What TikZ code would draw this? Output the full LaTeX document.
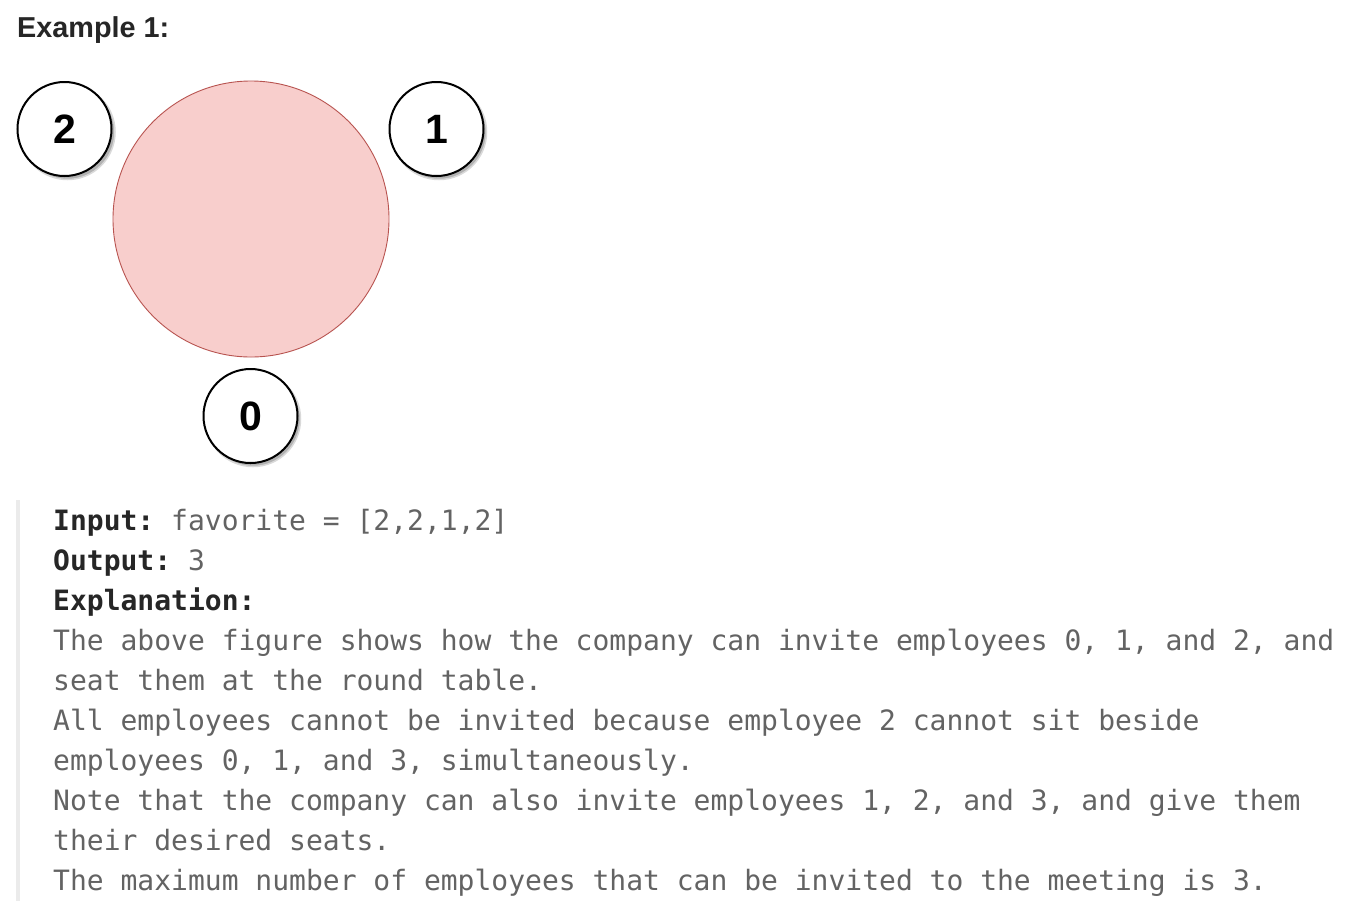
\documentclass[tikz,border=0pt]{standalone}
\usepackage{fontspec}
\setmainfont{Liberation Sans}
\setmonofont{DejaVu Sans Mono}
\definecolor{txtgrey}{HTML}{636363}
\definecolor{txtdark}{HTML}{262626}
\definecolor{barcol}{HTML}{EBEBEB}
\definecolor{tablefill}{HTML}{F8CECC}
\definecolor{tabledraw}{HTML}{B85450}
\begin{document}
\begin{tikzpicture}[x=1pt,y=-1pt,
  seat/.style={circle,draw=black,line width=2pt,fill=white,minimum size=94pt,inner sep=0pt,
    font=\fontsize{41}{41}\selectfont\bfseries},
  seatshadow/.style={circle,fill=black!30,minimum size=95pt,inner sep=0pt,draw=black!15,line width=1.5pt},
  codeline/.style={anchor=base west,inner sep=0pt,text=txtgrey,font=\fontsize{28}{40}\selectfont\ttfamily},
  lbl/.style={text=txtdark,font=\fontsize{28}{40}\selectfont\ttfamily\bfseries}
]
\useasboundingbox (0,0) rectangle (1364,922);
\fill[white] (0,0) rectangle (1364,922);
% title
\node[anchor=base west,inner sep=0pt,text=txtdark,font=\fontsize{28.8}{30}\selectfont\bfseries] (title) at (17,37) {Example 1:};
% table
\node[circle,draw=tabledraw,fill=tablefill,line width=0.9pt,minimum size=276pt,inner sep=0pt] (table) at (251,219) {};
% shadows
\node[seatshadow] (s2) at (67.5,132) {};
\node[seatshadow] (s1) at (439,132) {};
\node[seatshadow] (s0) at (253,419) {};
% seats
\node[seat] (p2) at (64.5,129) {2};
\node[seat] (p1) at (436.5,129) {1};
\node[seat] (p0) at (250.5,416) {0};
% quote bar
\fill[barcol] (16,500) rectangle (20,901);
\node[codeline] (l1) at (53,530) {\textcolor{txtdark}{\bfseries Input:} favorite = [2,2,1,2]};
\node[codeline] (l2) at (53,570) {\textcolor{txtdark}{\bfseries Output:} 3};
\node[codeline] (l3) at (53,610) {\textcolor{txtdark}{\bfseries Explanation:}};
\node[codeline] (l4) at (53,650) {The above figure shows how the company can invite employees 0, 1, and 2, and};
\node[codeline] (l5) at (53,690) {seat them at the round table.};
\node[codeline] (l6) at (53,730) {All employees cannot be invited because employee 2 cannot sit beside};
\node[codeline] (l7) at (53,770) {employees 0, 1, and 3, simultaneously.};
\node[codeline] (l8) at (53,810) {Note that the company can also invite employees 1, 2, and 3, and give them};
\node[codeline] (l9) at (53,850) {their desired seats.};
\node[codeline] (l10) at (53,890) {The maximum number of employees that can be invited to the meeting is 3.};
\end{tikzpicture}
\end{document}
